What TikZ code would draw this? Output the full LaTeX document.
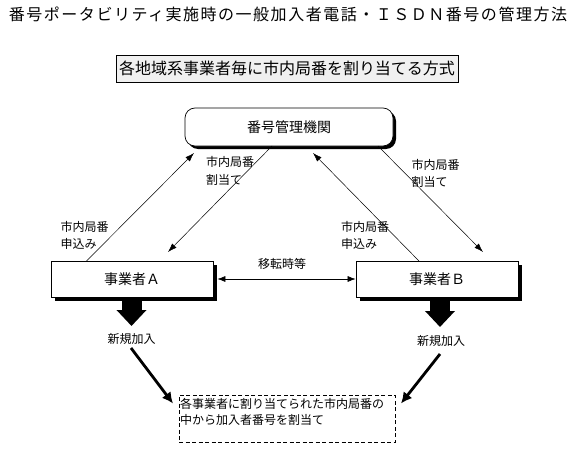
\documentclass[tikz,border=0pt]{standalone}
\usepackage{fontspec}
\setmainfont{Noto Sans CJK JP}
\usetikzlibrary{arrows.meta,calc}
\begin{document}
\begin{tikzpicture}[x=1pt,y=-1pt,
  conn/.style={line width=0.5pt,-{Latex[length=9pt,width=6pt]}},
  dconn/.style={line width=0.6pt,{Latex[length=8pt,width=6pt]}-{Latex[length=8pt,width=6pt]}},
  boldarrow/.style={line width=2.8pt,-{Latex[length=11pt,width=11pt]}},
  blockarrow/.style={line width=20pt,-{Triangle[length=16pt,width=29pt]}},
  lbl/.style={anchor=north west,align=left,inner sep=0pt,font=\fontsize{12}{17.5}\selectfont},
  txt/.style={inner sep=0pt,font=\fontsize{12}{14}\selectfont},
  boxnode/.style={draw,line width=0.7pt,fill=white,inner sep=0pt,font=\fontsize{14}{16}\selectfont}
]
\path[use as bounding box,fill=white] (0,0) rectangle (576,452);

% title
\node[inner sep=0pt,font=\fontsize{16}{16}\selectfont\addfontfeature{LetterSpace=9.5}] (title) at (288,14) {番号ポータビリティ実施時の一般加入者電話・ＩＳＤＮ番号の管理方法};

% subtitle box
\node[draw,line width=0.6pt,fill=gray!12,minimum width=342,minimum height=27,inner sep=0pt,font=\fontsize{16}{16}\selectfont] (sub) at (287,68.5) {各地域系事業者毎に市内局番を割り当てる方式};

% number management body
\fill[black,rounded corners=10pt] (188,111) rectangle (396,149);
\node[boxnode,rounded corners=10pt,minimum width=208,minimum height=38] (kanri) at (289,127) {番号管理機関};

% carriers
\fill[black] (55,265) rectangle (217,301);
\node[boxnode,minimum width=162,minimum height=36] (a) at (132,279) {事業者Ａ};
\fill[black] (360,265) rectangle (522,301);
\node[boxnode,minimum width=162,minimum height=36] (b) at (437,279) {事業者Ｂ};

% connector end points
\coordinate (aReqS) at (86.5,261);
\coordinate (aReqE) at (194,153);
\coordinate (kAS) at (272,146);
\coordinate (kAE) at (168,252);
\coordinate (bReqS) at (419,261);
\coordinate (bReqE) at (313,153);
\coordinate (kBS) at (378,146);
\coordinate (kBE) at (483,252);

\draw[conn] (aReqS) -- (aReqE);
\draw[conn] (kAS) -- (kAE);
\draw[conn] (bReqS) -- (bReqE);
\draw[conn] (kBS) -- (kBE);

% labels
\node[lbl] (lblAreq) at (60.5,221) {市内局番\\申込み};
\node[lbl] (lblAas) at (206,156.5) {市内局番\\割当て};
\node[lbl] (lblBreq) at (341,221) {市内局番\\申込み};
\node[lbl] (lblBas) at (411.5,159) {市内局番\\割当て};

% transfer
\node[txt] (iten) at (282,263.5) {移転時等};
\draw[dconn] ([xshift=4pt]a.east) -- (b.west);

% block arrows
\coordinate (blkAE) at (131.5,326);
\coordinate (blkBE) at (440,327);
\draw[blockarrow] (a.south -| blkAE) -- (blkAE);
\draw[blockarrow] (b.south -| blkBE) -- (blkBE);

\node[txt] (newA) at (131.5,338.5) {新規加入};
\node[txt] (newB) at (441,341) {新規加入};

% result box
\node[draw,dashed,dash pattern=on 4pt off 2.5pt,line width=0.7pt,minimum width=216,minimum height=47,inner sep=0pt] (d) at (287,418.5) {};
\node[anchor=north west,align=left,inner sep=0pt,font=\fontsize{12}{16}\selectfont] (dtext) at (180,398) {各事業者に割り当てられた市内局番の\\中から加入者番号を割当て};

\coordinate (newAS) at (131,348);
\coordinate (newAE) at (173,403.5);
\coordinate (newBS) at (440,354);
\coordinate (newBE) at (401,403.5);
\draw[boldarrow] (newAS) -- (newAE);
\draw[boldarrow] (newBS) -- (newBE);
\end{tikzpicture}
\end{document}
